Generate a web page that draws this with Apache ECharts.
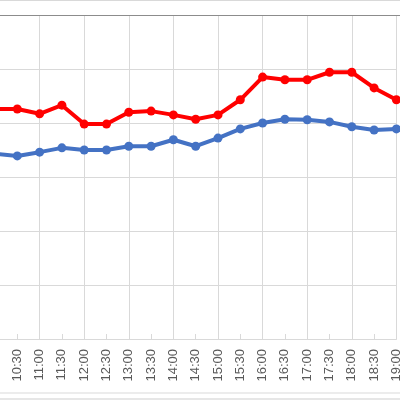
<!DOCTYPE html>
<html>
<head>
<meta charset="utf-8">
<script src="https://cdn.jsdelivr.net/npm/echarts@6/dist/echarts.min.js"></script>
<style>html,body{margin:0;padding:0;background:#fff}#c{width:400px;height:400px}</style>
</head>
<body>
<div id="c"></div>
<script>
const categories = ['10:00','10:30','11:00','11:30','12:00','12:30','13:00','13:30','14:00','14:30','15:00','15:30','16:00','16:30','17:00','17:30','18:00','18:30','19:00'];
const redValues = [42.6,42.6,41.7,43.3,39.8,39.8,42.0,42.2,41.5,40.7,41.5,44.3,48.5,48.0,48.0,49.4,49.4,46.5,44.3];
const blueValues = [34.3,33.9,34.6,35.4,35.0,35.0,35.7,35.7,36.9,35.7,37.2,38.9,40.0,40.7,40.6,40.2,39.3,38.7,38.9];
const yMin = 0, yMax = 60, yStep = 10;

const chart = echarts.init(document.getElementById('c'), null, {renderer: 'canvas'});
chart.setOption({
  animation: false,
  backgroundColor: '#fff',
  grid: {left: -5, right: 3.6, top: 15, bottom: 61, containLabel: false, outerBoundsMode: 'none'},
  xAxis: {
    type: 'category',
    data: categories,
    boundaryGap: false,
    axisLine: {show: true, lineStyle: {color: '#d9d9d9', width: 1}},
    axisTick: {show: true, inside: true, length: 5, interval: 0, lineStyle: {color: '#d9d9d9'}},
    splitLine: {show: true, interval: (i) => i % 2 === 0, lineStyle: {color: '#d9d9d9', width: 1}},
    axisLabel: {
      interval: (i) => i > 0, rotate: 90, margin: 10, color: '#595959',
      fontFamily: 'Liberation Sans', fontSize: 13, hideOverlap: false
    }
  },
  yAxis: {
    type: 'value', min: yMin, max: yMax, interval: yStep,
    axisLine: {show: false}, axisTick: {show: false}, axisLabel: {show: false},
    splitLine: {show: true, lineStyle: {color: '#d9d9d9', width: 1}}
  },
  series: [
    {type: 'line', data: blueValues, symbol: 'circle', symbolSize: 9,
     itemStyle: {color: '#4472C4'}, lineStyle: {color: '#4472C4', width: 4}},
    {type: 'line', data: redValues, symbol: 'circle', symbolSize: 9,
     itemStyle: {color: '#FF0000'}, lineStyle: {color: '#FF0000', width: 4}}
  ],
  graphic: [
    {type: 'line', shape: {x1: 0, y1: 0.5, x2: 400, y2: 0.5}, style: {stroke: '#d9d9d9', lineWidth: 1}},
    {type: 'line', shape: {x1: 0, y1: 15.5, x2: 400, y2: 15.5}, style: {stroke: '#8c8c8c', lineWidth: 1}, z: 10},
    {type: 'line', shape: {x1: 0, y1: 393, x2: 400, y2: 393}, style: {stroke: '#d9d9d9', lineWidth: 1}},
    {type: 'line', shape: {x1: 0, y1: 399, x2: 400, y2: 399}, style: {stroke: '#e6e6e6', lineWidth: 2}}
  ]
});
</script>
</body>
</html>
